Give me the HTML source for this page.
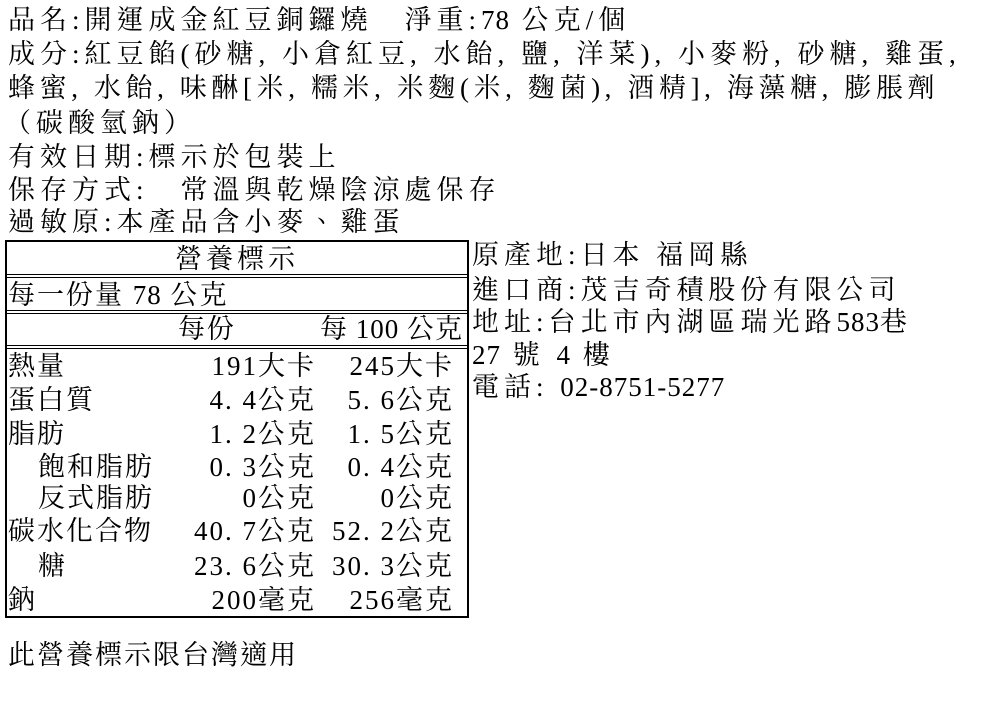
<!DOCTYPE html>
<html><head><meta charset="utf-8"><style>
body{margin:0;width:992px;height:719px;background:#fff;position:relative;overflow:hidden;color:#000;
font-family:"Liberation Serif","Noto Serif CJK TC","Noto Sans CJK TC",serif;font-size:27px;}
.t{position:absolute;white-space:nowrap;line-height:34px;letter-spacing:5px;}
.c{position:absolute;white-space:nowrap;line-height:34px;letter-spacing:2px;}
.r{text-align:right;}
.n{letter-spacing:1px;}
.ln{position:absolute;background:#000;}
</style></head><body>
<div class="t" style="left:8px;top:3px">品名:開運成金紅豆銅鑼燒　淨重:<span class="n">78</span> 公克/個</div>
<div class="t" style="left:8px;top:37px">成分:紅豆餡(砂糖, 小倉紅豆, 水飴, 鹽, 洋菜), 小麥粉, 砂糖, 雞蛋,</div>
<div class="t" style="left:8px;top:71px;letter-spacing:4.6px">蜂蜜, 水飴, 味醂[米, 糯米, 米麴(米, 麴菌), 酒精], 海藻糖, 膨脹劑</div>
<div class="t" style="left:4px;top:106px">（碳酸氫鈉）</div>
<div class="t" style="left:8px;top:140px">有效日期:標示於包裝上</div>
<div class="t" style="left:8px;top:173px">保存方式:　常溫與乾燥陰涼處保存</div>
<div class="t" style="left:8px;top:205px">過敏原:本產品含小麥、雞蛋</div>

<div class="t" style="left:472px;top:238px">原產地:日本 福岡縣</div>
<div class="t" style="left:472px;top:273px">進口商:茂吉奇積股份有限公司</div>
<div class="t" style="left:472px;top:305px">地址:台北市內湖區瑞光路<span class="n">583</span>巷</div>
<div class="t" style="left:472px;top:338px"><span class="n">27</span> 號 <span class="n">4</span> 樓</div>
<div class="t" style="left:472px;top:370px">電話: <span class="n">02-8751-5277</span></div>

<div class="ln" style="left:5px;top:240px;width:464px;height:2px"></div>
<div class="ln" style="left:5px;top:240px;width:2px;height:378px"></div>
<div class="ln" style="left:467px;top:240px;width:2px;height:378px"></div>
<div class="ln" style="left:5px;top:616px;width:464px;height:2px"></div>
<div class="ln" style="left:5px;top:274px;width:464px;height:1px"></div>
<div class="ln" style="left:5px;top:277px;width:464px;height:1px"></div>
<div class="ln" style="left:5px;top:310px;width:464px;height:1px"></div>
<div class="ln" style="left:5px;top:313px;width:464px;height:1px"></div>
<div class="ln" style="left:5px;top:345px;width:464px;height:1px"></div>
<div class="ln" style="left:5px;top:348px;width:464px;height:1px"></div>

<div class="c" style="left:5px;width:464px;top:242px;text-align:center;letter-spacing:4px">營養標示</div>
<div class="c" style="left:8px;top:278px">每一份量 <span class="n">78</span> 公克</div>
<div class="c" style="left:178px;top:312px">每份</div>
<div class="c" style="left:320px;top:312px;letter-spacing:1px">每 100 公克</div>

<div class="c" style="left:8px;top:349px">熱量</div>
<div class="c" style="left:8px;top:383px">蛋白質</div>
<div class="c" style="left:8px;top:417px">脂肪</div>
<div class="c" style="left:38px;top:450px">飽和脂肪</div>
<div class="c" style="left:38px;top:481px">反式脂肪</div>
<div class="c" style="left:8px;top:514px">碳水化合物</div>
<div class="c" style="left:38px;top:549px">糖</div>
<div class="c" style="left:8px;top:583px">鈉</div>

<div class="c r" style="left:150px;width:166px;top:349px">191大卡</div>
<div class="c r" style="left:150px;width:166px;top:383px">4. 4公克</div>
<div class="c r" style="left:150px;width:166px;top:417px">1. 2公克</div>
<div class="c r" style="left:150px;width:166px;top:450px">0. 3公克</div>
<div class="c r" style="left:150px;width:166px;top:481px">0公克</div>
<div class="c r" style="left:150px;width:166px;top:514px">40. 7公克</div>
<div class="c r" style="left:150px;width:166px;top:549px">23. 6公克</div>
<div class="c r" style="left:150px;width:166px;top:583px">200毫克</div>

<div class="c r" style="left:290px;width:164px;top:349px">245大卡</div>
<div class="c r" style="left:290px;width:164px;top:383px">5. 6公克</div>
<div class="c r" style="left:290px;width:164px;top:417px">1. 5公克</div>
<div class="c r" style="left:290px;width:164px;top:450px">0. 4公克</div>
<div class="c r" style="left:290px;width:164px;top:481px">0公克</div>
<div class="c r" style="left:290px;width:164px;top:514px">52. 2公克</div>
<div class="c r" style="left:290px;width:164px;top:549px">30. 3公克</div>
<div class="c r" style="left:290px;width:164px;top:583px">256毫克</div>

<div class="c" style="left:8px;top:638px">此營養標示限台灣適用</div>
</body></html>
